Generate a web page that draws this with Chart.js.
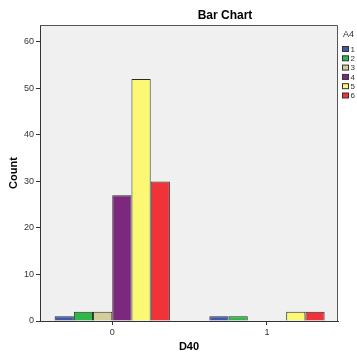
<!DOCTYPE html>
<html>
<head>
<meta charset="utf-8">
<script src="https://cdn.jsdelivr.net/npm/chart.js@4/dist/chart.umd.min.js"></script>
<style>
html,body{margin:0;padding:0;background:#fff;}
#wrap{width:357px;height:354px;position:relative;}
</style>
</head>
<body>
<div id="wrap"><canvas id="c" width="357" height="354"></canvas></div>
<script>
// ---- data ----
const categories = [0, 1];            // D40
const seriesLabels = ['1', '2', '3', '4', '5', '6']; // A4
const s1 = [1, 1];
const s2 = [2, 1];
const s3 = [2, 0];
const s4 = [27, 0];
const s5 = [52, 2];
const s6 = [30, 2];
const yTickValues = [0, 10, 20, 30, 40, 50, 60];
const xTickValues = [0, 1];
const colors = ['#3E58AC', '#2EB848', '#D3CE97', '#7C287D', '#FBF873', '#EF3338'];

const series = [s1, s2, s3, s4, s5, s6];
const datasets = series.map((vals, i) => ({
  label: seriesLabels[i],
  data: categories.map((c, j) => ({x: c, y: vals[j] === 0 ? null : vals[j]})),
  backgroundColor: colors[i],
  borderColor: '#2a2a2a',
  borderWidth: 1,
  borderSkipped: 'bottom',
  barPercentage: 1.0,
  categoryPercentage: 0.745
}));

const FONT = "'Liberation Sans', Arial, sans-serif";

const frame = {
  id: 'frame',
  beforeDraw(chart) {
    const {ctx, chartArea: a} = chart;
    ctx.save();
    ctx.fillStyle = '#F0F0F0';
    ctx.fillRect(a.left, a.top, a.right - a.left, a.bottom - a.top);
    ctx.restore();
  },
  afterDraw(chart) {
    const {ctx, chartArea: a} = chart;
    ctx.save();
    ctx.strokeStyle = '#555';
    ctx.lineWidth = 1;
    ctx.beginPath();
    ctx.moveTo(a.left, a.top + 0.5);
    ctx.lineTo(a.right - 0.5, a.top + 0.5);
    ctx.lineTo(a.right - 0.5, a.bottom);
    ctx.stroke();
    // title
    ctx.fillStyle = '#000';
    ctx.font = 'bold 12px ' + FONT;
    ctx.textAlign = 'center';
    ctx.textBaseline = 'middle';
    ctx.fillText('Bar Chart', (a.left + a.right) / 2 + 36, a.top - 9);
    // legend
    const lx = a.right + 4.5;
    let ly = a.top + 24;
    ctx.font = '9px ' + FONT;
    ctx.fillStyle = '#333';
    ctx.textAlign = 'left';
    ctx.fillText('A4', a.right + 5, a.top + 10);
    chart.data.datasets.forEach((ds) => {
      ctx.fillStyle = ds.backgroundColor;
      ctx.fillRect(lx, ly - 2.5, 6, 5);
      ctx.strokeStyle = '#333';
      ctx.strokeRect(lx, ly - 2.5, 6, 5);
      ctx.fillStyle = '#333';
      ctx.font = '8px ' + FONT;
      ctx.fillText(ds.label, lx + 8, ly + 0.5);
      ly += 9.3;
    });
    ctx.restore();
  }
};

new Chart(document.getElementById('c'), {
  type: 'bar',
  data: {datasets},
  options: {
    responsive: false,
    animation: false,
    layout: {padding: {left: 0, right: 19, top: 25, bottom: 0}},
    plugins: {legend: {display: false}, title: {display: false}, tooltip: {enabled: false}},
    scales: {
      x: {
        type: 'linear',
        min: -0.467,
        max: 1.459,
        offset: false,
        afterBuildTicks: (s) => { s.ticks = xTickValues.map(v => ({value: v})); },
        afterFit: (s) => { s.height = 33; },
        grid: {display: true, offset: false, drawOnChartArea: false, drawTicks: true, tickLength: 4, color: '#333'},
        border: {display: true, color: '#333', width: 1},
        ticks: {font: {size: 9, family: FONT}, color: '#333', padding: 2, maxRotation: 0, autoSkip: false},
        title: {display: true, text: 'D40', font: {size: 11, weight: 'bold', family: FONT}, color: '#000', padding: {top: 0, bottom: 0}}
      },
      y: {
        min: 0,
        max: 63.6,
        afterBuildTicks: (s) => { s.ticks = yTickValues.map(v => ({value: v})); },
        afterFit: (s) => { s.width = 40; },
        grid: {display: true, drawOnChartArea: false, drawTicks: true, tickLength: 4, color: '#333'},
        border: {display: true, color: '#333', width: 1},
        ticks: {font: {size: 9, family: FONT}, color: '#333', padding: 2},
        title: {display: true, text: 'Count', font: {size: 11, weight: 'bold', family: FONT}, color: '#000', padding: {top: 7, bottom: 0}}
      }
    }
  },
  plugins: [frame]
});
</script>
</body>
</html>
